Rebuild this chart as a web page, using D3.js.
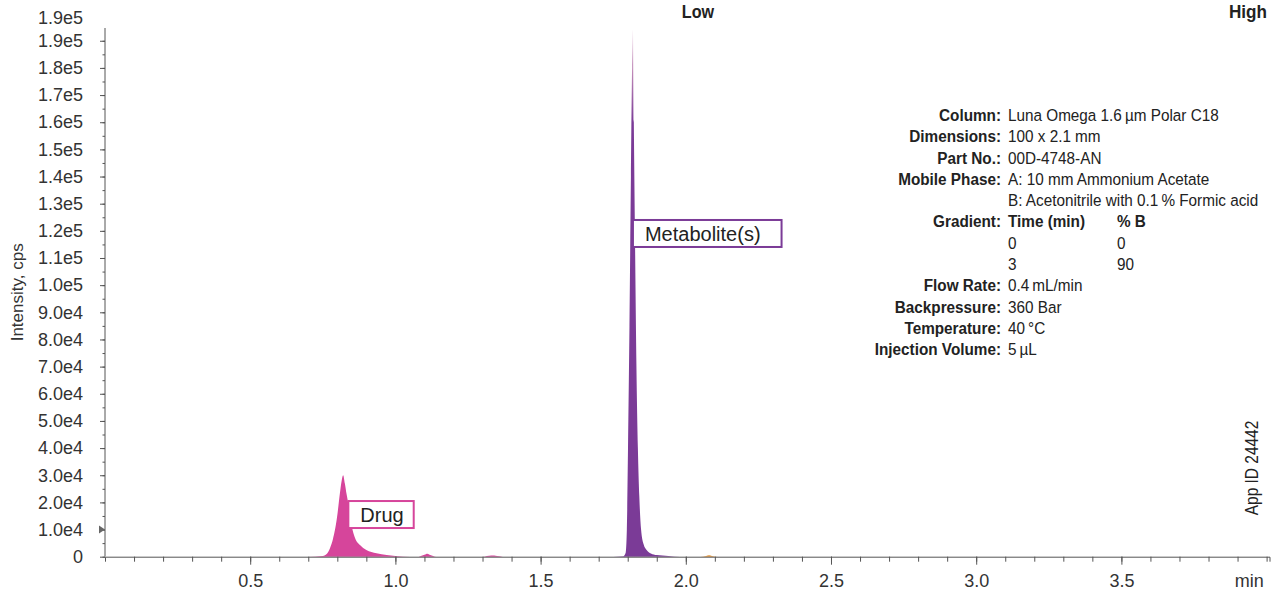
<!DOCTYPE html>
<html>
<head>
<meta charset="utf-8">
<script src="https://cdn.jsdelivr.net/npm/d3@7"></script>
<style>
  body { margin: 0; background: #fff; }
  svg { display: block; font-family: "Liberation Sans", Arial, sans-serif; }
</style>
</head>
<body>
<div class="vis-holder"></div>
<script>
const width = 1276;
const height = 590;

// y axis ticks
const yTickValues = [0, 1e4, 2e4, 3e4, 4e4, 5e4, 6e4, 7e4, 8e4, 9e4, 1e5, 1.1e5, 1.2e5, 1.3e5, 1.4e5, 1.5e5, 1.6e5, 1.7e5, 1.8e5, 1.9e5];
const yTickLabels = ["0", "1.0e4", "2.0e4", "3.0e4", "4.0e4", "5.0e4", "6.0e4", "7.0e4", "8.0e4", "9.0e4", "1.0e5", "1.1e5", "1.2e5", "1.3e5", "1.4e5", "1.5e5", "1.6e5", "1.7e5", "1.8e5", "1.9e5"];
const yTopLabel = "1.9e5";

// x axis ticks
const xTickValues = [0.5, 1.0, 1.5, 2.0, 2.5, 3.0, 3.5];
const xTickLabels = ["0.5", "1.0", "1.5", "2.0", "2.5", "3.0", "3.5"];

// drug peak
const drugTime = [0.70, 0.75, 0.765, 0.775, 0.785, 0.799, 0.809, 0.815, 0.820, 0.826, 0.832, 0.838, 0.850, 0.861, 0.878, 0.900, 0.935, 0.970, 1.00, 1.05];
const drugIntensity = [0, 300, 1200, 3200, 6500, 14500, 23500, 28000, 30000, 27000, 23000, 19500, 11000, 6900, 4300, 2500, 1300, 600, 300, 0];
const drugMinorTime = [1.08, 1.10, 1.11, 1.12, 1.14, 1.30, 1.33, 1.35, 1.37];
const drugMinorIntensity = [0, 700, 1100, 600, 0, 0, 400, 300, 0];

// metabolite peak
const metTime = [1.75, 1.785, 1.793, 1.797, 1.801, 1.806, 1.811, 1.815, 1.818, 1.821, 1.825, 1.830, 1.835, 1.840, 1.846, 1.855, 1.865, 1.880, 1.900, 1.940, 1.98];
const metIntensity = [0, 200, 1500, 10000, 40000, 85000, 140000, 180000, 194000, 160000, 118000, 70000, 40000, 22000, 10000, 4500, 2500, 1200, 600, 300, 0];

// small orange bump
const otherTime = [2.05, 2.07, 2.08, 2.09, 2.11];
const otherIntensity = [0, 300, 500, 300, 0];

// peak labels
const peakLabels = ["Drug", "Metabolite(s)"];
const peakLabelTime = [0.838, 1.818];
const peakLabelValue = [20500, 124000];

// method table
const infoLabels = ["Column:", "Dimensions:", "Part No.:", "Mobile Phase:", "", "Gradient:", "", "", "Flow Rate:", "Backpressure:", "Temperature:", "Injection Volume:"];
const infoValues = ["Luna Omega 1.6\u2009µm Polar C18", "100 x 2.1 mm", "00D-4748-AN", "A: 10 mm Ammonium Acetate", "B: Acetonitrile with 0.1\u2009% Formic acid", "Time (min)", "0", "3", "0.4\u2009mL/min", "360 Bar", "40\u2009°C", "5\u2009µL"];
const infoValues2 = ["", "", "", "", "", "% B", "0", "90", "", "", "", ""];

const drugColor = "#d6459b";
const metColor = "#7b3b97";

const svg = d3.select(".vis-holder").append("svg")
    .attr("width", width)
    .attr("height", height);

const x = d3.scaleLinear().domain([0, 4.01]).range([105, 1269.5]);
const y = d3.scaleLinear().domain([0, 1.947e5]).range([556.7, 28]);

const defs = svg.append("defs");
const grad = defs.append("linearGradient")
    .attr("id", "metGrad")
    .attr("gradientUnits", "userSpaceOnUse")
    .attr("x1", 0).attr("x2", 0)
    .attr("y1", y(1.94e5)).attr("y2", y(1.6e5));
grad.append("stop").attr("offset", 0).attr("stop-color", "#f4e4ee");
grad.append("stop").attr("offset", 0.45).attr("stop-color", "#c08ab8");
grad.append("stop").attr("offset", 1).attr("stop-color", metColor);

const area = d3.area()
    .x(d => x(d[0]))
    .y0(y(0))
    .y1(d => y(d[1]))
    .curve(d3.curveMonotoneX);

function drawPeak(times, values, fill) {
    svg.append("path")
        .datum(d3.zip(times, values))
        .attr("d", area)
        .attr("fill", fill);
}

drawPeak(drugTime, drugIntensity, drugColor);
drawPeak(drugMinorTime, drugMinorIntensity, drugColor);
drawPeak(metTime, metIntensity, "url(#metGrad)");
drawPeak(otherTime, otherIntensity, "#e8912c");

// y axis
const yAxis = svg.append("g")
    .attr("transform", `translate(${x(0)},0)`)
    .call(d3.axisLeft(y).tickValues(d3.range(0, 1.95e5, 5000)).tickSize(2.5).tickFormat(""));
yAxis.select(".domain").remove();
const yMajor = svg.append("g")
    .attr("transform", `translate(${x(0)},0)`)
    .call(d3.axisLeft(y).tickValues(yTickValues).tickSize(5).tickPadding(17)
        .tickFormat((d, i) => yTickLabels[i]));
yMajor.select(".domain").remove();
svg.append("text")
    .attr("x", x(0) - 22)
    .attr("y", y(1.985e5))
    .attr("dy", "0.35em")
    .attr("text-anchor", "end")
    .text(yTopLabel);
svg.append("line")
    .attr("x1", x(0)).attr("x2", x(0))
    .attr("y1", y(0)).attr("y2", y(1.947e5))
    .attr("stroke", "#555");

// x axis
const xMinor = svg.append("g")
    .attr("transform", `translate(0,${y(0)})`)
    .call(d3.axisBottom(x).tickValues(d3.range(1, 41).map(i => i / 10)).tickSize(5).tickFormat(""));
xMinor.select(".domain").attr("stroke", "#555");
const xMajor = svg.append("g")
    .attr("transform", `translate(0,${y(0)})`)
    .call(d3.axisBottom(x).tickValues(xTickValues).tickSize(8).tickPadding(10)
        .tickFormat((d, i) => xTickLabels[i]));
xMajor.select(".domain").remove();
svg.append("text")
    .attr("x", x(3.94))
    .attr("y", y(0) + 18)
    .attr("dy", "0.71em")
    .attr("text-anchor", "middle")
    .text("min");

svg.selectAll(".tick line").attr("stroke", "#555");
svg.selectAll(".tick text, svg > text").attr("font-size", 18).attr("fill", "#333");
svg.selectAll(".tick text").attr("font-family", "Liberation Sans, Arial, sans-serif");

// trigger marker at 1.0e4
svg.append("path")
    .attr("d", `M${x(0) - 6},${y(1e4) - 4}L${x(0)},${y(1e4)}L${x(0) - 6},${y(1e4) + 4}Z`)
    .attr("fill", "#666");

// y label
svg.append("text")
    .attr("transform", `translate(23,${(y(0) + y(1.947e5)) / 2}) rotate(-90)`)
    .attr("text-anchor", "middle")
    .attr("font-size", 17)
    .attr("fill", "#333")
    .text("Intensity, cps");

// peak label boxes
const labelColors = [drugColor, metColor];
const labelPad = [22, 33];
peakLabels.forEach((label, i) => {
    const g = svg.append("g")
        .attr("transform", `translate(${x(peakLabelTime[i])},${y(peakLabelValue[i])})`);
    const rect = g.append("rect").attr("fill", "#fff")
        .attr("stroke", labelColors[i]).attr("stroke-width", 2);
    const t = g.append("text")
        .attr("x", 12).attr("y", 14).attr("dy", "0.35em")
        .attr("font-size", 20).attr("fill", "#222")
        .text(label);
    const w = t.node().getComputedTextLength();
    rect.attr("x", 0).attr("y", 0).attr("width", w + labelPad[i]).attr("height", 27);
});

// Low / High (condensed look by horizontal scaling)
svg.append("text")
    .attr("transform", "translate(698,18) scale(0.85,1)")
    .attr("text-anchor", "middle")
    .attr("font-size", 19).attr("font-weight", "bold").attr("fill", "#222")
    .text("Low");
svg.append("text")
    .attr("transform", "translate(1267,18) scale(0.9,1)")
    .attr("text-anchor", "end")
    .attr("font-size", 19).attr("font-weight", "bold").attr("fill", "#222")
    .text("High");

// method info
const sx = 0.9;
const info = svg.append("g")
    .attr("transform", `translate(1001,0) scale(${sx},1)`)
    .attr("font-size", 17).attr("fill", "#222");
infoLabels.forEach((label, i) => {
    const yy = 121 + i * 21.3;
    info.append("text").attr("x", 0).attr("y", yy)
        .attr("text-anchor", "end").attr("font-weight", "bold").text(label);
    info.append("text").attr("x", 7 / sx).attr("y", yy)
        .attr("font-weight", i === 5 ? "bold" : "normal").text(infoValues[i]);
    if (infoValues2[i]) {
        info.append("text").attr("x", 116 / sx).attr("y", yy)
            .attr("font-weight", i === 5 ? "bold" : "normal").text(infoValues2[i]);
    }
});

// app id
svg.append("text")
    .attr("transform", "translate(1258,468) rotate(-90) scale(0.86,1)")
    .attr("text-anchor", "middle")
    .attr("font-size", 18).attr("fill", "#222")
    .text("App ID 24442");
</script>
</body>
</html>
